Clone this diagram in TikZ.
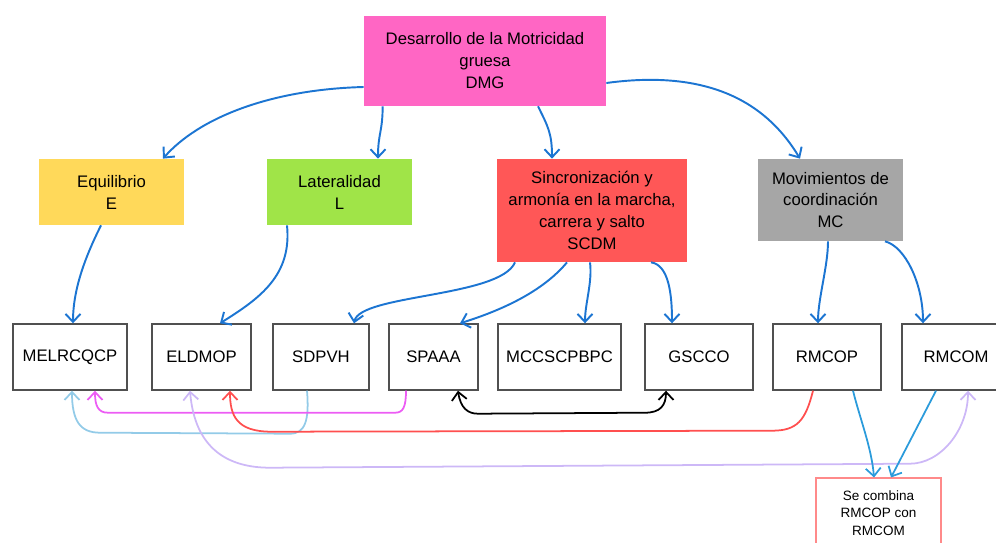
\documentclass[tikz,border=0pt]{standalone}
\usepackage{fontspec}
\setmainfont{Liberation Sans}
\usetikzlibrary{arrows.meta}

\definecolor{rosa}{HTML}{FF66C4}
\definecolor{amarillo}{HTML}{FFD95A}
\definecolor{verde}{HTML}{A0E448}
\definecolor{rojo}{HTML}{FF5757}
\definecolor{gris}{HTML}{A6A6A6}
\definecolor{azul}{HTML}{1C75D2}
\definecolor{celeste}{HTML}{2B9BDB}
\definecolor{azulclaro}{HTML}{93CBE8}
\definecolor{magenta}{HTML}{EC5CF4}
\definecolor{lavanda}{HTML}{CDB8F7}
\definecolor{rojolinea}{HTML}{FF4F4F}
\definecolor{borde}{HTML}{505050}
\definecolor{rosaclaro}{HTML}{FF8A8A}

\begin{document}
\begin{tikzpicture}[
    >={Straight Barb[length=1.6mm,width=3mm]},
    caja/.style={rectangle, inner sep=0pt, align=center, font=\fontsize{9.5}{12.5}\selectfont},
    hoja/.style={caja, draw=borde, line width=0.8pt, minimum height=1.32cm},
    flecha/.style={azul, line width=1.1pt, ->},
    enlace/.style={line width=1pt}
  ]
    \useasboundingbox (0,0) rectangle (19.92,-10.86);

    % Nodo principal
    \node[caja, fill=rosa, minimum width=4.84cm, minimum height=1.8cm] (dmg) at (9.70,-1.22) {Desarrollo de la Motricidad\\gruesa\\DMG};

    % Segundo nivel
    \node[caja, fill=amarillo, minimum width=2.9cm, minimum height=1.32cm] (e) at (2.23,-3.84) {Equilibrio\\E};
    \node[caja, fill=verde, minimum width=2.9cm, minimum height=1.32cm] (l) at (6.79,-3.84) {Lateralidad\\L};
    \node[caja, fill=rojo, minimum width=3.8cm, minimum height=2.06cm] (scdm) at (11.84,-4.21) {Sincronización y\\armonía en la marcha,\\carrera y salto\\SCDM};
    \node[caja, fill=gris, minimum width=2.9cm, minimum height=1.64cm] (mc) at (16.61,-4.00) {Movimientos de\\coordinación\\MC};

    % Tercer nivel
    \node[hoja, minimum width=2.28cm] (melrcqcp) at (1.40,-7.14) {MELRCQCP};
    \node[hoja, minimum width=1.98cm] (eldmop) at (4.03,-7.14) {ELDMOP};
    \node[hoja, minimum width=1.92cm] (sdpvh) at (6.42,-7.14) {SDPVH};
    \node[hoja, minimum width=1.78cm] (spaaa) at (8.67,-7.14) {SPAAA};
    \node[hoja, minimum width=2.46cm] (mccscpbpc) at (11.19,-7.14) {MCCSCPBPC};
    \node[hoja, minimum width=2.16cm] (gscco) at (13.98,-7.14) {GSCCO};
    \node[hoja, minimum width=2.16cm] (rmcop) at (16.54,-7.14) {RMCOP};
    \node[hoja, minimum width=2.16cm] (rmcom) at (19.12,-7.14) {RMCOM};

    % Nota final
    \node[caja, draw=rosaclaro, line width=0.6pt, minimum width=2.5cm, minimum height=1.4cm, font=\fontsize{7.7}{10}\selectfont] (final) at (17.57,-10.26) {Se combina\\RMCOP con\\RMCOM};

    % Flechas desde DMG
    \draw[flecha] ([yshift=-0.52cm]dmg.west) .. controls +(-1.9,-0.05) and +(0.7,0.8) .. ([xshift=1.03cm]e.north);
    \draw[flecha] ([xshift=0.38cm]dmg.south west) .. controls +(0,-0.5) and +(0,0.5) .. ([xshift=0.77cm]l.north);
    \draw[flecha] ([xshift=1.06cm]dmg.south) .. controls +(0.2,-0.4) and +(0,0.5) .. ([xshift=-0.80cm]scdm.north);
    \draw[flecha] ([yshift=-0.44cm]dmg.east) .. controls +(2.2,0.3) and +(-0.6,1.0) .. ([xshift=-0.61cm]mc.north);

    % Flechas del segundo nivel
    \draw[flecha] ([xshift=-0.21cm]e.south) .. controls +(-0.3,-0.6) and +(0,0.7) .. ([xshift=0.06cm]melrcqcp.north);
    \draw[flecha] ([xshift=-1.05cm]l.south) .. controls +(0.1,-1.0) and +(0.8,0.5) .. ([xshift=0.37cm]eldmop.north);
    \draw[flecha] ([xshift=-1.54cm]scdm.south) .. controls +(-0.3,-0.7) and +(0.12,0.58) .. ([xshift=0.66cm]sdpvh.north);
    \draw[flecha] ([xshift=-0.50cm]scdm.south) .. controls +(-0.5,-0.6) and +(0.8,0.25) .. ([xshift=0.53cm]spaaa.north);
    \draw[flecha] ([xshift=-0.04cm]scdm.south) .. controls +(0.05,-0.4) and +(0,0.4) .. ([xshift=0.51cm]mccscpbpc.north);
    \draw[flecha] ([xshift=1.18cm]scdm.south) .. controls +(0.35,-0.05) and +(0,0.6) .. ([xshift=-0.54cm]gscco.north);
    \draw[flecha] ([xshift=-0.05cm]mc.south) .. controls +(0,-0.5) and +(0,0.5) .. ([xshift=-0.18cm]rmcop.north);
    \draw[flecha] ([xshift=1.09cm]mc.south) .. controls +(0.4,-0.1) and +(0,0.8) .. ([xshift=-0.66cm]rmcom.north);

    % Relaciones entre el tercer nivel
    \draw[enlace, azulclaro, ->] ([xshift=-0.28cm]sdpvh.south) .. controls +(0.05,-0.6) and +(0.3,0) .. ([xshift=-0.62cm,yshift=-0.86cm]sdpvh.south) -- ([xshift=0.6cm,yshift=-0.84cm]melrcqcp.south) .. controls +(-0.4,0) and +(0,-0.6) .. ([xshift=0.04cm]melrcqcp.south);
    \draw[enlace, magenta, ->] ([xshift=-0.55cm]spaaa.south) .. controls +(0,-0.35) and +(0.15,0) .. ([xshift=-0.77cm,yshift=-0.44cm]spaaa.south) -- ([xshift=0.76cm,yshift=-0.44cm]melrcqcp.south) .. controls +(-0.2,0) and +(0,-0.3) .. ([xshift=0.5cm]melrcqcp.south);
    \draw[enlace, black, <->] ([xshift=0.49cm]spaaa.south) .. controls +(0.05,-0.35) and +(-0.2,0) .. ([xshift=0.89cm,yshift=-0.46cm]spaaa.south) -- ([xshift=-1.08cm,yshift=-0.44cm]gscco.south) .. controls +(0.3,0) and +(0,-0.3) .. ([xshift=-0.66cm]gscco.south);
    \draw[enlace, rojolinea, ->] ([xshift=-0.28cm]rmcop.south) .. controls +(-0.15,-0.6) and +(0.5,0) .. ([xshift=-1.1cm,yshift=-0.8cm]rmcop.south) -- ([xshift=1.4cm,yshift=-0.82cm]eldmop.south) .. controls +(-0.7,0) and +(0,-0.5) .. ([xshift=0.57cm]eldmop.south);
    \draw[enlace, lavanda, <->] ([xshift=-0.23cm]eldmop.south) .. controls +(0.1,-1.2) and +(-0.8,0) .. ([xshift=1.37cm,yshift=-1.54cm]eldmop.south) -- ([xshift=-0.92cm,yshift=-1.46cm]rmcom.south) .. controls +(0.6,0) and +(0,-0.8) .. ([xshift=0.24cm]rmcom.south);

    % Hacia la nota
    \draw[enlace, celeste, ->] ([xshift=0.52cm]rmcop.south) .. controls +(0.15,-0.6) and +(-0.05,0.6) .. ([xshift=-0.09cm]final.north);
    \draw[enlace, celeste, ->] ([xshift=-0.40cm]rmcom.south) -- ([xshift=0.25cm]final.north);
\end{tikzpicture}
\end{document}
